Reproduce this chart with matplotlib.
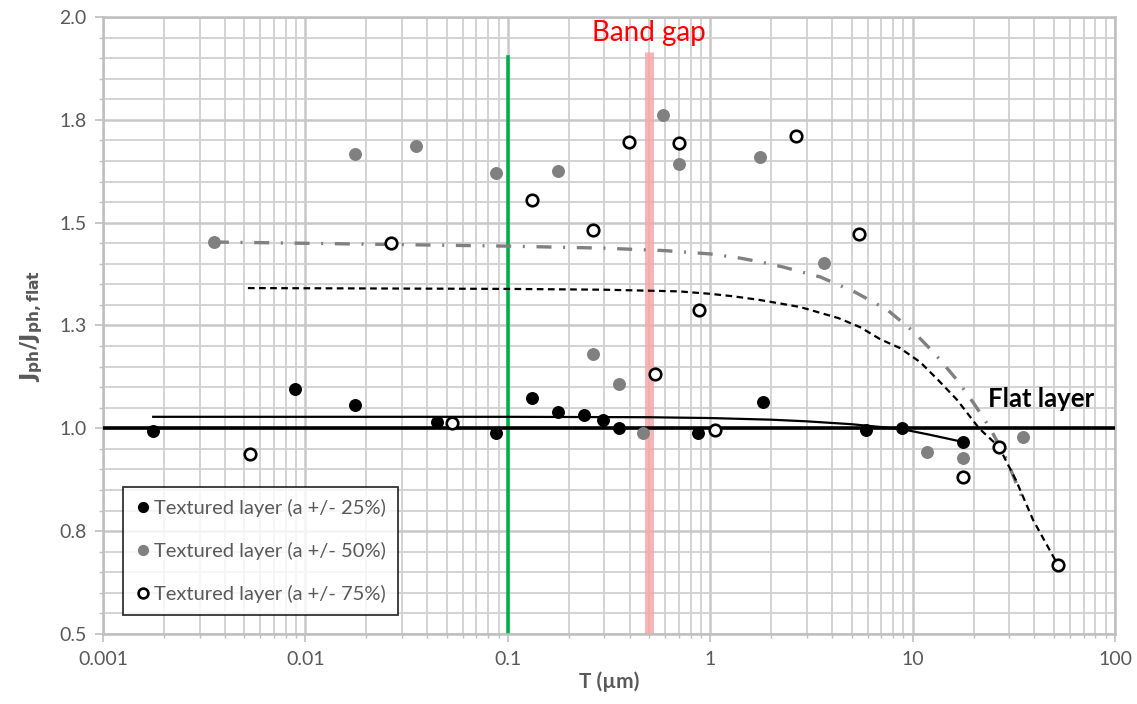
import matplotlib
matplotlib.use("Agg")
import matplotlib.pyplot as plt
from matplotlib.ticker import FixedLocator, FixedFormatter, LogLocator, NullFormatter
import numpy as np

plt.rcParams['font.family'] = ['Lato', 'DejaVu Sans']

# ---- data ----
t25 = [0.00177, 0.00889, 0.0176, 0.0447, 0.0875, 0.132, 0.177, 0.238, 0.295, 0.354, 0.871, 1.82, 5.89, 8.87, 17.7]
j25 = [0.993, 1.096, 1.057, 1.015, 0.989, 1.074, 1.040, 1.032, 1.020, 1.001, 0.989, 1.064, 0.996, 1.001, 0.967]

t50 = [0.00353, 0.0176, 0.0351, 0.0875, 0.177, 0.264, 0.354, 0.466, 0.585, 0.702, 1.76, 3.65, 11.8, 17.7, 35.1]
j50 = [1.453, 1.667, 1.686, 1.621, 1.626, 1.181, 1.108, 0.989, 1.762, 1.643, 1.660, 1.402, 0.942, 0.928, 0.979]

t75 = [0.00532, 0.0265, 0.053, 0.132, 0.264, 0.397, 0.533, 0.702, 0.881, 1.06, 2.65, 5.43, 17.7, 26.7, 52.2]
j75 = [0.938, 1.451, 1.013, 1.555, 1.482, 1.696, 1.132, 1.694, 1.288, 0.996, 1.711, 1.472, 0.882, 0.955, 0.668]

fit25_t = [0.00177, 0.1, 0.5, 1.0, 2.0, 3.0, 5.0, 7.0, 8.87, 12.0, 17.7]
fit25_j = [1.028, 1.028, 1.027, 1.025, 1.021, 1.017, 1.010, 1.003, 0.998, 0.985, 0.967]

fit50_t = [0.00353, 0.1, 0.3, 0.6, 1.0, 1.4, 1.8, 2.3, 3.5, 5.2, 7.5, 10.0, 12.9, 16.6, 20.3, 24.1, 28.6, 34.7]
fit50_j = [1.453, 1.443, 1.438, 1.432, 1.424, 1.414, 1.404, 1.392, 1.368, 1.331, 1.288, 1.237, 1.181, 1.117, 1.057, 1.001, 0.933, 0.833]

fit75_t = [0.0052, 0.1, 0.3, 0.7, 1.0, 1.3, 1.76, 2.78, 4.3, 5.5, 6.9, 8.67, 10.9, 13.4, 16.6, 21.3, 26.7, 32.4, 39.4, 52.2]
fit75_j = [1.341, 1.339, 1.337, 1.333, 1.327, 1.321, 1.312, 1.295, 1.268, 1.246, 1.217, 1.195, 1.161, 1.117, 1.069, 1.000, 0.955, 0.874, 0.777, 0.668]

flat_level = 1.0
green_t = 0.1
bandgap_t = 0.5

xticks = [0.001, 0.01, 0.1, 1, 10, 100]
xtick_labels = ["0.001", "0.01", "0.1", "1", "10", "100"]
yticks = [0.5, 0.75, 1.0, 1.25, 1.5, 1.75, 2.0]
ytick_labels = ["0.5", "0.8", "1.0", "1.3", "1.5", "1.8", "2.0"]

labels = ["Textured layer (a +/- 25%)", "Textured layer (a +/- 50%)", "Textured layer (a +/- 75%)"]

# ---- figure ----
fig = plt.figure(figsize=(11.37, 7.04), dpi=100)
ax = fig.add_axes([103/1137, 1-634/704, (1115-103)/1137, (634-17)/704])
ax.set_xscale('log')
ax.set_xlim(0.001, 100)
ax.set_ylim(0.5, 2.0)

tick_gray = '#595959'
grid_c = '#D0D0D0'

ax.xaxis.set_major_locator(FixedLocator(xticks))
ax.xaxis.set_major_formatter(FixedFormatter(xtick_labels))
ax.xaxis.set_minor_locator(LogLocator(base=10, subs=np.arange(2, 10)))
ax.xaxis.set_minor_formatter(NullFormatter())
ax.yaxis.set_major_locator(FixedLocator(yticks))
ax.yaxis.set_major_formatter(FixedFormatter(ytick_labels))
ax.yaxis.set_minor_locator(FixedLocator(np.round(np.arange(0.5, 2.0001, 0.05), 2)))

ax.grid(True, which='major', color='#C8C8C8', lw=1.8, zorder=0)
ax.grid(True, which='minor', color=grid_c, lw=1.3, zorder=0)
ax.set_axisbelow(True)

for s in ax.spines.values():
    s.set_color('#BFBFBF')
    s.set_linewidth(1.8)

ax.tick_params(axis='both', which='major', direction='out', length=6, width=1.2,
               color='#BFBFBF', labelcolor=tick_gray, labelsize=14, pad=6)
ax.tick_params(axis='both', which='minor', direction='out', length=3, width=1.0, color='#BFBFBF')

# vertical markers
ax.plot([green_t, green_t], [0.5, 1.903], color='#00B050', lw=2.6, zorder=2)
ax.plot([bandgap_t, bandgap_t], [0.5, 1.915], color='#F7A8A8', lw=6.5, alpha=0.85, zorder=2,
        solid_capstyle='butt')
ax.text(bandgap_t, 1.962, "Band gap", color='#FF0000', fontsize=20, ha='center', va='center')

# flat layer
ax.axhline(flat_level, color='black', lw=2.6, zorder=3)
ax.text(43, 1.072, "Flat layer", color='black', fontsize=18.5, fontweight='bold', ha='center', va='center')

# fits
ax.plot(fit25_t, fit25_j, color='black', lw=1.6, zorder=3)
ax.plot(fit50_t, fit50_j, color='#808080', lw=2.4, dashes=(4.5, 3.5, 0.6, 3.5), zorder=3)
ax.plot(fit75_t, fit75_j, color='black', lw=1.6, dashes=(3, 2), zorder=3)

# points
ms = 8.3
ax.plot(t25, j25, 'o', color='black', ms=ms, ls='none', zorder=5, label=labels[0])
ax.plot(t50, j50, 'o', color='#808080', mec='#808080', ms=ms, ls='none', zorder=5, label=labels[1])
ax.plot(t75, j75, 'o', mfc='white', mec='black', mew=1.9, ms=ms, ls='none', zorder=5, label=labels[2])

leg = ax.legend(loc='lower left', bbox_to_anchor=(0.02, 0.03), frameon=True, fancybox=False,
                edgecolor='black', fontsize=14.5, labelspacing=1.25, handletextpad=0.15,
                handlelength=0.8, borderpad=0.6, borderaxespad=0, markerscale=0.85)
leg.get_frame().set_linewidth(1.3)
for txt in leg.get_texts():
    txt.set_color(tick_gray)

ax.set_xlabel("T (µm)", fontsize=15, fontweight='bold', color=tick_gray, labelpad=3)
ax.set_ylabel(r"$\mathbf{J_{ph}/J_{ph,flat}}$", fontsize=16, color=tick_gray, labelpad=10)

fig.savefig("out.png", dpi=100)
